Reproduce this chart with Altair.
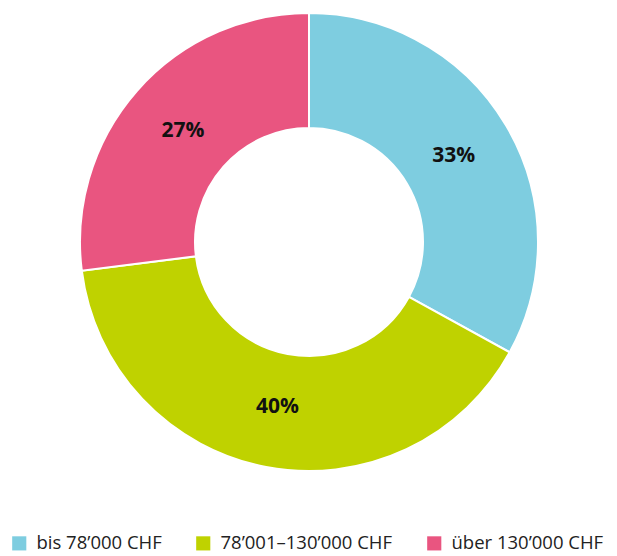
import altair as alt
import pandas as pd

categories = ["bis 78’000 CHF", "78’001–130’000 CHF", "über 130’000 CHF"]
values = [33, 40, 27]
labels = ["33%", "40%", "27%"]
colors = ["#7ECDE0", "#BFD200", "#E95580"]

df = pd.DataFrame({"cat": categories, "val": values, "label": labels, "ord": [0, 1, 2]})

cx, cy = 301, 234

base = alt.Chart(df).encode(
    theta=alt.Theta("val:Q", stack=True),
    order=alt.Order("ord:Q"),
)

arcs = base.mark_arc(outerRadius=229, innerRadius=114, stroke="white", strokeWidth=2).encode(
    x=alt.value(cx), y=alt.value(cy),
    color=alt.Color(
        "cat:N",
        scale=alt.Scale(domain=categories, range=colors),
        legend=alt.Legend(
            title=None, orient="none", direction="horizontal",
            legendX=2, legendY=526,
            symbolType="square", symbolSize=200, symbolStrokeWidth=0,
            labelFontSize=18.5, labelFont="Open Sans", labelColor="#222",
            labelOffset=8, labelLimit=400, columnPadding=32, symbolOpacity=1,
        ),
    ),
)

texts = base.mark_text(radius=168, fontSize=21, fontWeight="bold", font="Open Sans", color="#111").encode(
    x=alt.value(cx), y=alt.value(cy), text="label:N"
)

chart = (arcs + texts).properties(
    width=601, height=548, autosize=alt.AutoSizeParams(type="none"), padding=0
).configure_view(stroke=None)

chart.save("out.html", embed_options={"renderer": "svg", "actions": False})
